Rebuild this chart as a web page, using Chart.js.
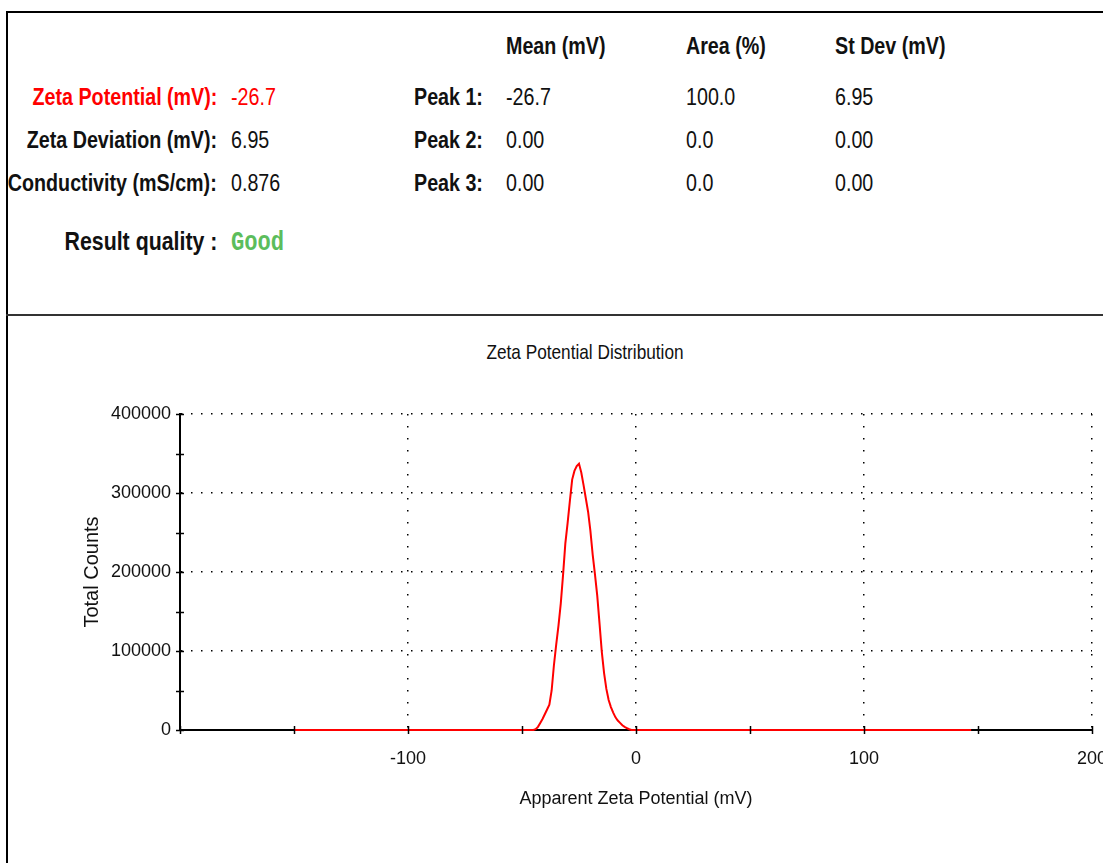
<!DOCTYPE html>
<html>
<head>
<meta charset="utf-8">
<script src="https://cdn.jsdelivr.net/npm/chart.js@4"></script>
<style>
  html, body { margin: 0; padding: 0; background: #fff; }
  body { width: 1103px; height: 863px; position: relative; overflow: hidden;
         font-family: "Liberation Sans", Arial, sans-serif; color: #111; }
  .frame { position: absolute; left: 6px; top: 11px; width: 1200px; height: 1000px;
           border-left: 2px solid #000; border-top: 2px solid #000; }
  .divider { position: absolute; left: 6px; top: 314px; width: 1200px; height: 2px; background: #333; }
  .t { position: absolute; font-size: 24px; line-height: 30px; white-space: nowrap;
       transform: scaleX(0.82); transform-origin: left center; }
  .b { font-weight: bold; }
  .r { text-align: right; transform-origin: right center; }
  .red { color: #f00; }
  .good { color: #5cbd5c; font-family: "Liberation Mono", "DejaVu Sans Mono", monospace; font-weight: bold; font-size: 27px; }
  .ctitle { position: absolute; left: 585px; top: 339px; font-size: 21px; line-height: 26px; white-space: nowrap;
            transform: translateX(-50%) scaleX(0.82); }
  #chart { position: absolute; left: 0; top: 317px; }
</style>
</head>
<body>
<div class="frame"></div>
<div class="divider"></div>

<div class="t b r red" style="right:886px; top:82px;">Zeta Potential (mV):</div>
<div class="t red" style="left:231px; top:82px;">-26.7</div>
<div class="t b r" style="right:886px; top:125px;">Zeta Deviation (mV):</div>
<div class="t" style="left:231px; top:125px;">6.95</div>
<div class="t b r" style="right:886px; top:168px;">Conductivity (mS/cm):</div>
<div class="t" style="left:231px; top:168px;">0.876</div>
<div class="t b r" style="right:886px; top:226px; font-size:26px;">Result quality :</div>
<div class="t good" style="left:231px; top:228px;">Good</div>

<div class="t b" style="left:506px; top:31px;">Mean (mV)</div>
<div class="t b" style="left:686px; top:31px;">Area (%)</div>
<div class="t b" style="left:835px; top:31px;">St Dev (mV)</div>

<div class="t b" style="left:414px; top:82px;">Peak 1:</div>
<div class="t" style="left:506px; top:82px;">-26.7</div>
<div class="t" style="left:686px; top:82px;">100.0</div>
<div class="t" style="left:835px; top:82px;">6.95</div>
<div class="t b" style="left:414px; top:125px;">Peak 2:</div>
<div class="t" style="left:506px; top:125px;">0.00</div>
<div class="t" style="left:686px; top:125px;">0.0</div>
<div class="t" style="left:835px; top:125px;">0.00</div>
<div class="t b" style="left:414px; top:168px;">Peak 3:</div>
<div class="t" style="left:506px; top:168px;">0.00</div>
<div class="t" style="left:686px; top:168px;">0.0</div>
<div class="t" style="left:835px; top:168px;">0.00</div>

<div class="ctitle">Zeta Potential Distribution</div>
<canvas id="chart" width="1103" height="546"></canvas>

<script>
// apparent zeta potential (mV) and total counts
const zetaMv = [-150, -45, -44, -43, -42, -41, -40, -39, -38, -37, -36, -35, -34, -33, -32, -31,
  -30, -29, -28, -27, -26, -25, -24, -23, -22, -21, -20, -19, -18, -17, -16, -15, -14, -13,
  -12, -11, -10, -9, -8, -7, -6, -5, -4, -3, -2, 147];
const totalCounts = [0, 0, 1000, 4000, 9000, 14000, 20000, 26000, 32000, 50000, 82000, 108000,
  132000, 160000, 196000, 236000, 262000, 290000, 317000, 328000, 334000, 337000, 326000,
  310000, 293000, 276000, 252000, 222000, 197000, 170000, 135000, 99000, 72000, 52000, 38000,
  29000, 22000, 16000, 12000, 9000, 6000, 4000, 2500, 1000, 0, 0];

const xTickLabels = [-100, 0, 100, 200];
const yTickLabels = [0, 100000, 200000, 300000, 400000];

const SANS = '"Liberation Sans", Arial, sans-serif';
const tickFont = { family: SANS, size: 18 };
const clear = 'rgba(0,0,0,0)';

// little tick marks that cross both axes
const crossTicks = {
  id: 'crossTicks',
  afterDraw(chart) {
    const { ctx, chartArea, scales: { x, y } } = chart;
    ctx.save();
    ctx.strokeStyle = '#000';
    ctx.lineWidth = 1.5;
    x.ticks.forEach(t => {
      const px = Math.round(x.getPixelForValue(t.value)) + 0.5;
      ctx.beginPath();
      ctx.moveTo(px, chartArea.bottom - 4);
      ctx.lineTo(px, chartArea.bottom + 4);
      ctx.stroke();
    });
    y.ticks.forEach(t => {
      const py = Math.round(y.getPixelForValue(t.value)) + 0.5;
      ctx.beginPath();
      ctx.moveTo(chartArea.left - 4, py);
      ctx.lineTo(chartArea.left + 4, py);
      ctx.stroke();
    });
    ctx.restore();
  }
};

new Chart(document.getElementById('chart'), {
  type: 'scatter',
  data: {
    datasets: [{
      data: zetaMv.map((v, i) => ({ x: v, y: totalCounts[i] })),
      showLine: true,
      borderColor: '#ff0000',
      borderWidth: 2,
      pointRadius: 0,
      tension: 0,
      clip: 4
    }]
  },
  options: {
    responsive: false,
    animation: false,
    layout: { padding: { left: 0, right: 11, top: 97, bottom: 0 } },
    plugins: {
      legend: { display: false },
      tooltip: { enabled: false },
      title: { display: false }
    },
    scales: {
      x: {
        type: 'linear',
        min: -200,
        max: 200,
        ticks: {
          stepSize: 50,
          autoSkip: false,
          maxRotation: 0,
          padding: 18,
          color: '#111',
          font: tickFont,
          callback: v => xTickLabels.includes(v) ? String(v) : ''
        },
        grid: {
          drawTicks: false,
          lineWidth: 1.5,
          color: c => (c.tick && xTickLabels.includes(c.tick.value)) ? '#000' : clear
        },
        border: { display: true, color: '#000', width: 2, dash: [1.5, 10.5] },
        title: {
          display: true,
          text: 'Apparent Zeta Potential (mV)',
          color: '#111',
          font: tickFont,
          padding: { top: 0, bottom: 53 }
        },
        afterFit: s => { s.height = 133; s.paddingLeft = 0; s.paddingRight = 0; }
      },
      y: {
        min: 0,
        max: 400000,
        ticks: {
          stepSize: 50000,
          autoSkip: false,
          padding: 9,
          color: '#111',
          font: tickFont,
          callback: v => yTickLabels.includes(v) ? String(v) : ''
        },
        grid: {
          drawTicks: false,
          lineWidth: 1.5,
          color: c => (c.tick && c.tick.value !== 0 && yTickLabels.includes(c.tick.value)) ? '#000' : clear
        },
        border: { display: true, color: '#000', width: 2, dash: [1.5, 8.5] },
        title: {
          display: true,
          text: 'Total Counts',
          color: '#111',
          font: { family: SANS, size: 20 },
          padding: { top: 80, bottom: 0 }
        },
        afterFit: s => { s.width = 180; s.paddingTop = 0; s.paddingBottom = 0; }
      }
    }
  },
  plugins: [crossTicks]
});
</script>
</body>
</html>
